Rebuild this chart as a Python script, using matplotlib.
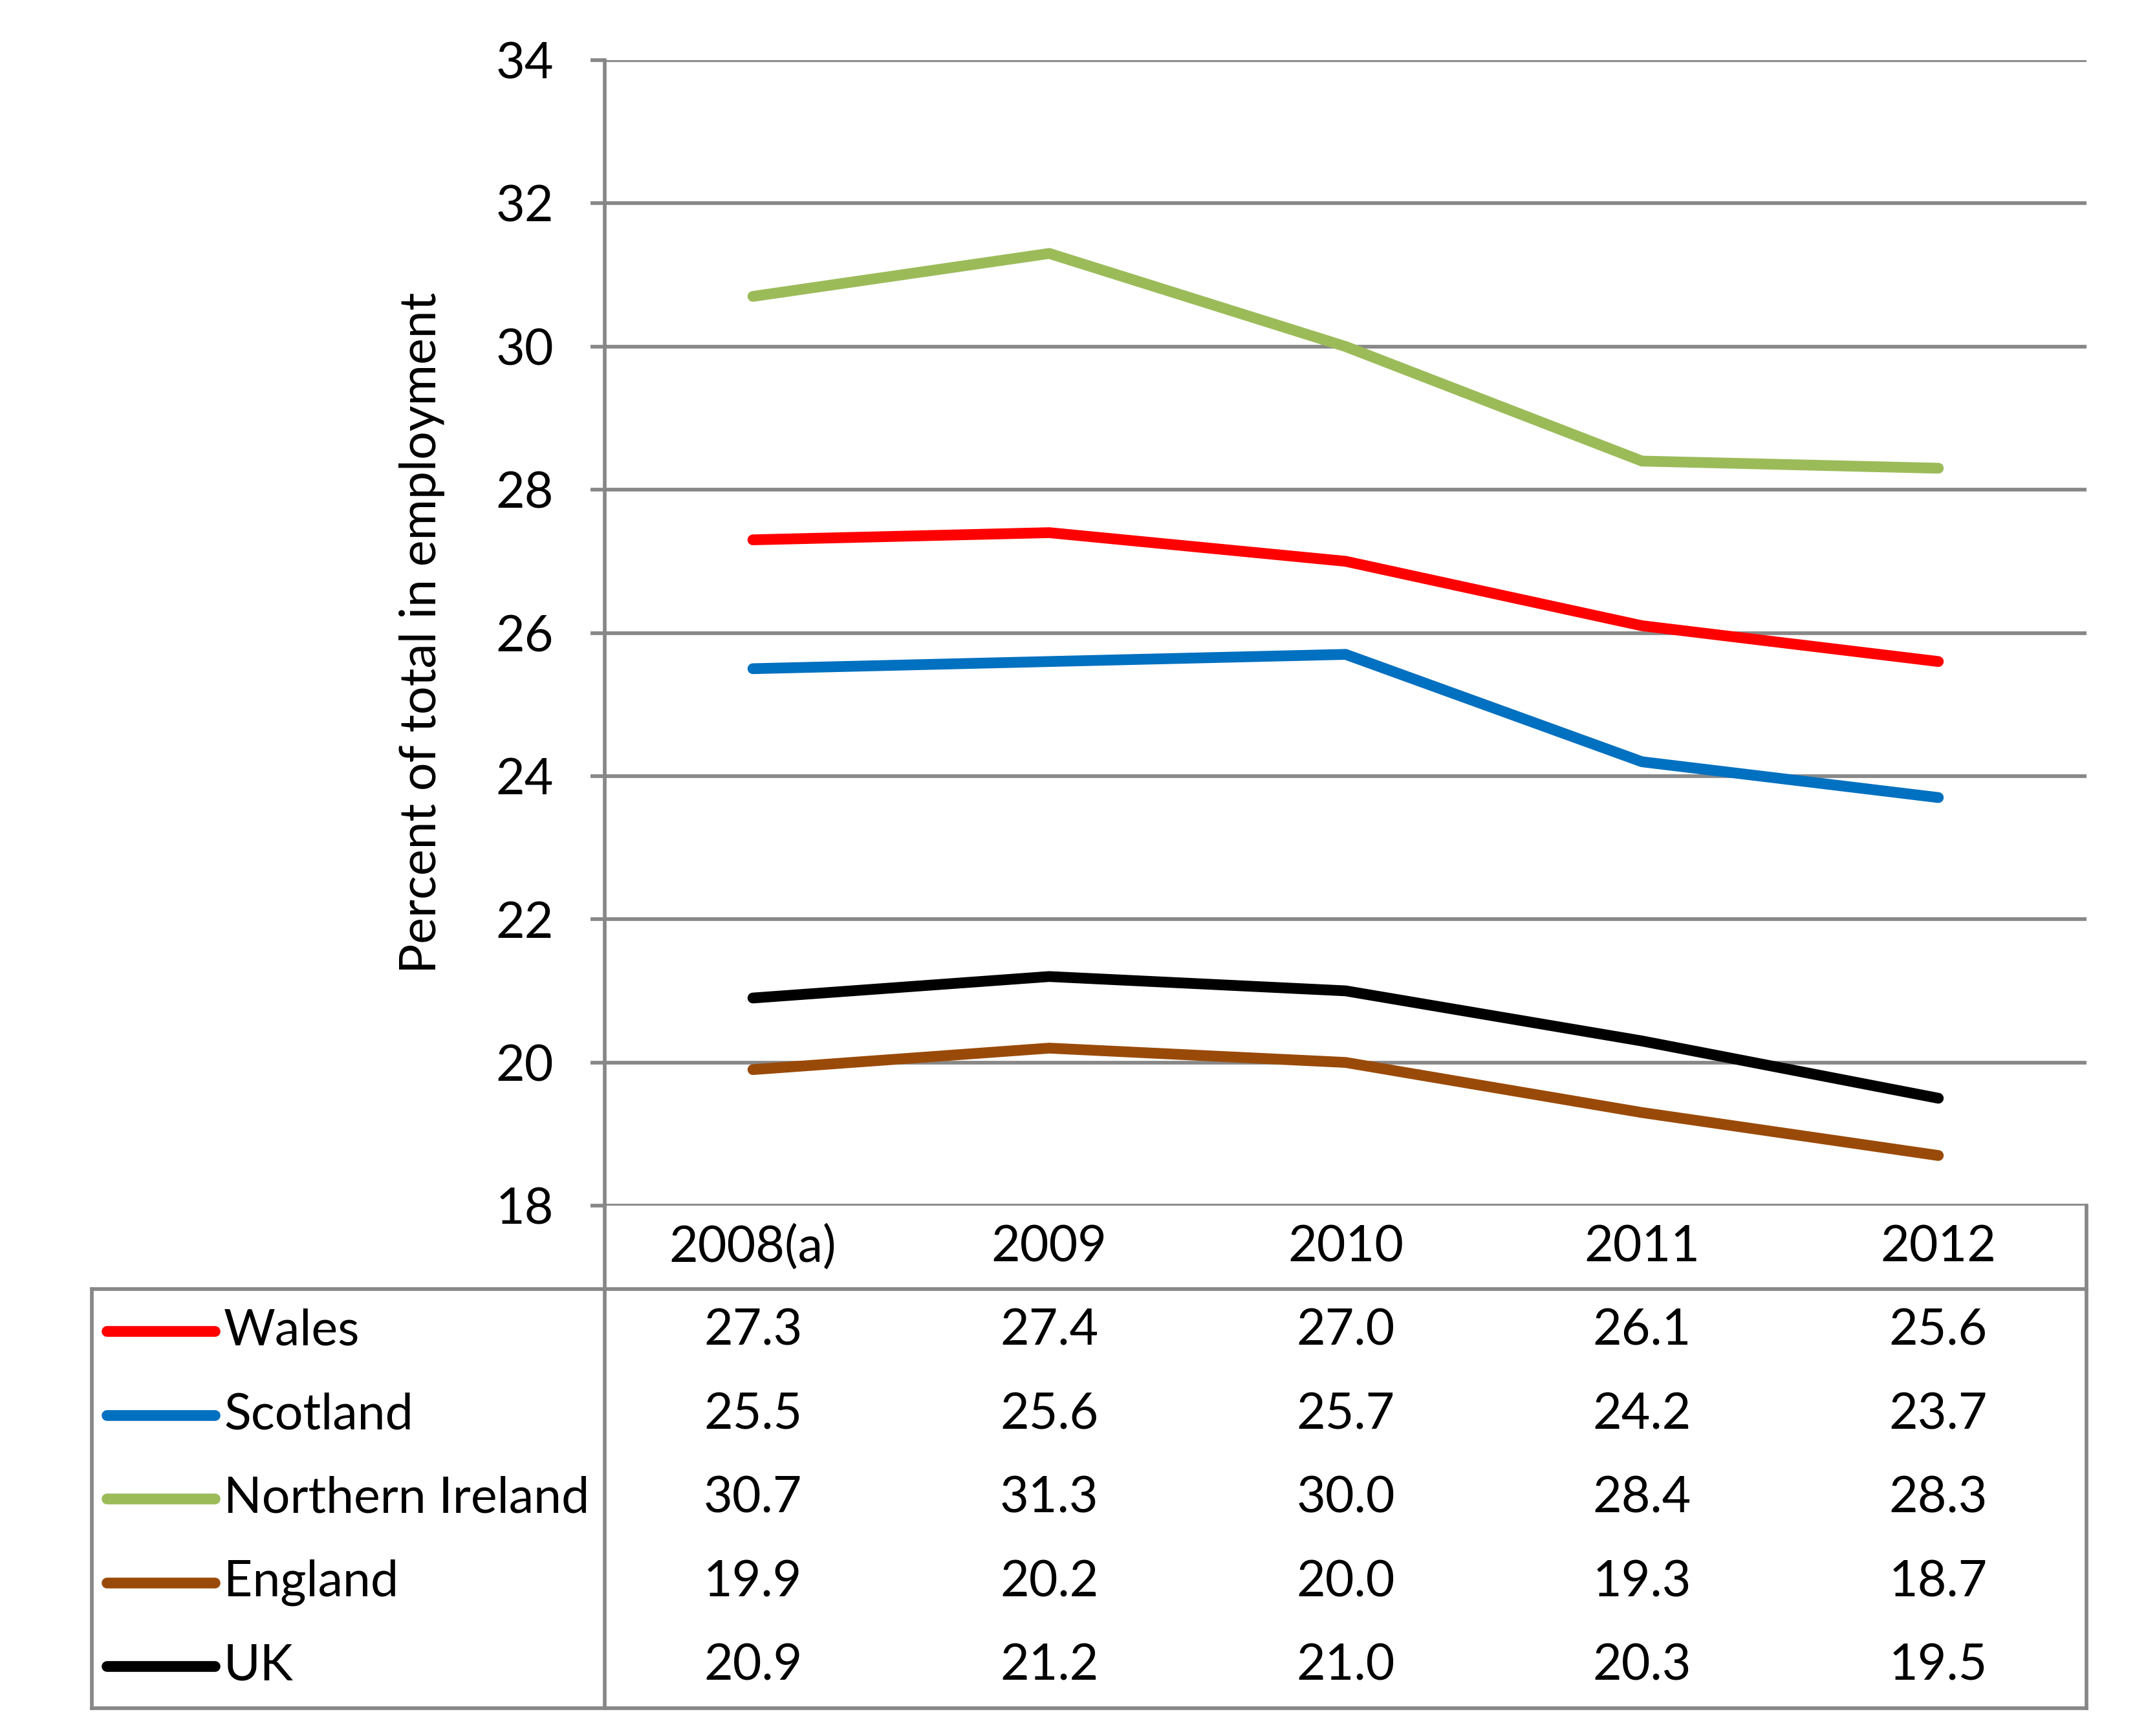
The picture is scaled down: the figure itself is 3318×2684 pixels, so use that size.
import matplotlib
matplotlib.use("Agg")
from matplotlib import pyplot as plt
import numpy as np

years = ['2008(a)', '2009', '2010', '2011', '2012']
series_names = ['Wales', 'Scotland', 'Northern Ireland', 'England', 'UK']
wales = [27.3, 27.4, 27.0, 26.1, 25.6]
scotland = [25.5, 25.6, 25.7, 24.2, 23.7]
northern_ireland = [30.7, 31.3, 30.0, 28.4, 28.3]
england = [19.9, 20.2, 20.0, 19.3, 18.7]
uk = [20.9, 21.2, 21.0, 20.3, 19.5]
yticks = [18, 20, 22, 24, 26, 28, 30, 32, 34]

values = [wales, scotland, northern_ireland, england, uk]
colors = ['#FF0000', '#0070C0', '#9BBB59', '#9A4A08', '#000000']

plt.rcParams['font.family'] = ['Lato', 'DejaVu Sans']
W, H = 3318, 2684
grey = '#878787'
fs = 55.5
lw = 12

fig = plt.figure(figsize=(W / 100, H / 100), dpi=100)


def frac(l, t, r, b):
    return [l / W, 1 - b / H, (r - l) / W, (b - t) / H]


# plot area
left, right, top, bottom = 935, 3226, 93, 1864
ax = fig.add_axes(frac(left, top, right, bottom))
x = np.arange(len(years))
for vals, col in zip(values, colors):
    ax.plot(x, vals, color=col, lw=lw, solid_capstyle='round', solid_joinstyle='round', zorder=3)
ax.set_xlim(-0.5, len(years) - 0.5)
ax.set_ylim(18, 34)
ax.set_yticks(yticks)
ax.set_xticks([])
ax.yaxis.grid(True, color=grey, lw=4.1)
ax.set_axisbelow(True)
for s in ['top', 'right', 'bottom']:
    ax.spines[s].set_visible(False)
ax.spines['left'].set_color(grey)
ax.spines['left'].set_linewidth(4.1)
ax.tick_params(axis='y', length=16, width=4.1, color=grey, labelsize=fs, pad=41)
ax.set_ylabel('Percent of total in employment', fontsize=fs, labelpad=56)

# data table
tleft, tbottom = 142, 2641
cat_w = (right - left) / len(years)
xmin = -0.5 - (left - tleft) / cat_w
tab = fig.add_axes(frac(tleft, bottom, right, tbottom))
tab.set_xlim(xmin, len(years) - 0.5)
tab.set_ylim(len(series_names) + 1, 0)
tab.axis('off')
kw = dict(color=grey, lw=4.1, solid_capstyle='projecting', clip_on=False)
tab.plot([xmin, 4.5], [1, 1], **kw)
tab.plot([xmin, 4.5], [6, 6], **kw)
tab.plot([xmin, xmin], [1, 6], **kw)
tab.plot([-0.5, -0.5], [0, 6], **kw)
tab.plot([4.5, 4.5], [0, 6], **kw)

for i, yr in enumerate(years):
    tab.text(i, 0.5, yr, ha='center', va='center', fontsize=fs)

key_x0 = xmin + (165 - tleft) / cat_w
key_x1 = xmin + (332 - tleft) / cat_w
txt_x = xmin + (346 - tleft) / cat_w
for r, (name, vals, col) in enumerate(zip(series_names, values, colors)):
    yrow = r + 1.5
    tab.plot([key_x0, key_x1], [yrow, yrow], color=col, lw=lw, solid_capstyle='round', clip_on=False)
    tab.text(txt_x, yrow, name, ha='left', va='center', fontsize=fs)
    for i, v in enumerate(vals):
        tab.text(i, yrow, f'{v:.1f}', ha='center', va='center', fontsize=fs)

fig.savefig('out.png', dpi=100, facecolor='white')
